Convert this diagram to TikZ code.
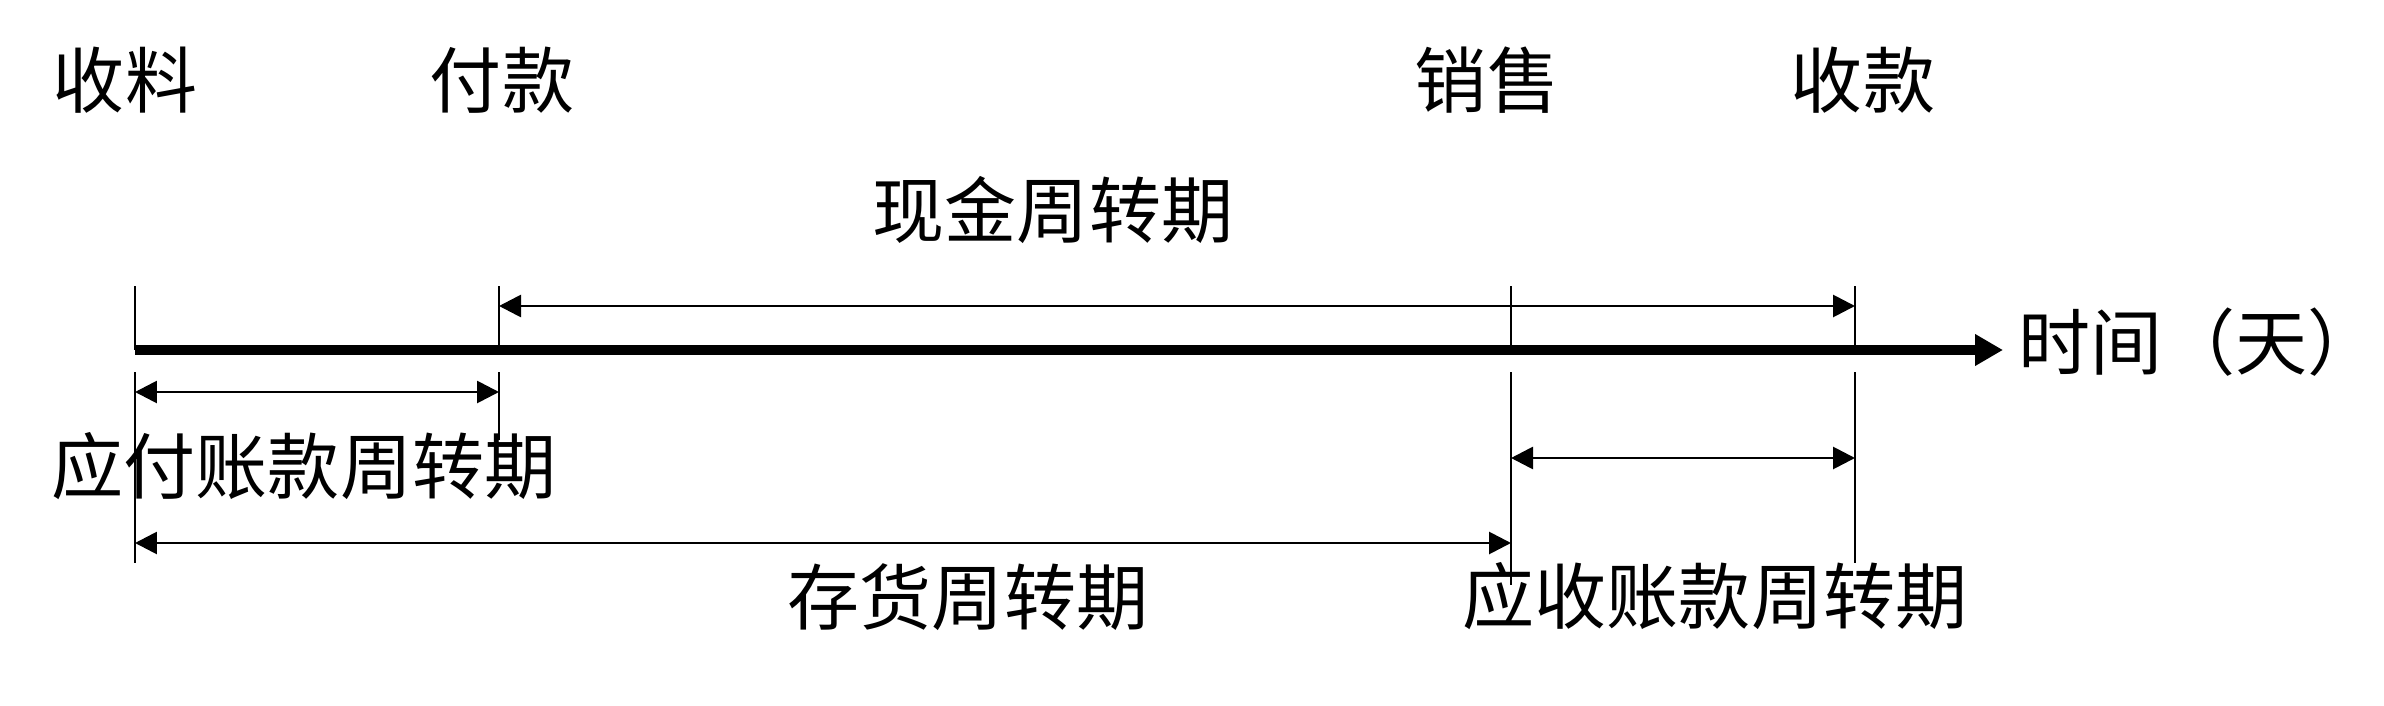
\documentclass[tikz,border=0pt]{standalone}
\usepackage{fontspec}
\usetikzlibrary{arrows.meta}
\newfontfamily\cjk{Noto Sans CJK SC}
\begin{document}
\begin{tikzpicture}[x=0.02cm,y=-0.02cm,
  lbl/.style={font=\cjk\fontsize{41}{49}\selectfont, inner sep=0pt, anchor=center},
  tick/.style={line width=1.6pt},
  span/.style={line width=1.6pt, {Triangle[length=0.44cm,width=0.44cm]}-{Triangle[length=0.44cm,width=0.44cm]}},
  axisline/.style={line width=5.7pt, -{Triangle[length=0.56cm,width=0.6cm]}}]
\useasboundingbox (0,0) rectangle (2384,706);
% labels
\node[lbl] (shouliao) at (125,80) {收料};
\node[lbl] (fukuan) at (502,80) {付款};
\node[lbl] (xiaoshou) at (1487,80) {销售};
\node[lbl] (shoukuan) at (1863,80) {收款};
\node[lbl] (xianjin) at (1053,210) {现金周转期};
\node[lbl] (shijian) at (2199,342) {时间（天）};
\node[lbl] (yingfu) at (304,466) {应付账款周转期};
\node[lbl] (cunhuo) at (968,597) {存货周转期};
\node[lbl] (yingshou) at (1715,596) {应收账款周转期};
% coordinates
\coordinate (a0) at (135,350);
\coordinate (aend) at (2003,350);
\coordinate (t1u) at (135,286);   \coordinate (t1m) at (135,350);
\coordinate (t2u) at (499,286);   \coordinate (t2m) at (499,350);
\coordinate (t3u) at (1511,286);  \coordinate (t3m) at (1511,350);
\coordinate (t4u) at (1855,286);  \coordinate (t4m) at (1855,350);
\coordinate (t1l) at (135,372);   \coordinate (t1b) at (135,563);
\coordinate (t2l) at (499,372);   \coordinate (t2b) at (499,440);
\coordinate (t3l) at (1511,372);  \coordinate (t3b) at (1511,585);
\coordinate (t4l) at (1855,372);  \coordinate (t4b) at (1855,563);
% ticks
\draw[tick] (t1u) -- (t1m);
\draw[tick] (t2u) -- (t2m);
\draw[tick] (t3u) -- (t3m);
\draw[tick] (t4u) -- (t4m);
\draw[tick] (t1l) -- (t1b);
\draw[tick] (t2l) -- (t2b);
\draw[tick] (t3l) -- (t3b);
\draw[tick] (t4l) -- (t4b);
% axis
\draw[axisline] (a0) -- (aend);
% spans
\coordinate (c1) at (499,306);  \coordinate (c2) at (1855,306);
\coordinate (p1) at (135,392);  \coordinate (p2) at (499,392);
\coordinate (r1) at (1511,458); \coordinate (r2) at (1855,458);
\coordinate (i1) at (135,543);  \coordinate (i2) at (1511,543);
\draw[span] (c1) -- (c2);
\draw[span] (p1) -- (p2);
\draw[span] (r1) -- (r2);
\draw[span] (i1) -- (i2);
\end{tikzpicture}
\end{document}
